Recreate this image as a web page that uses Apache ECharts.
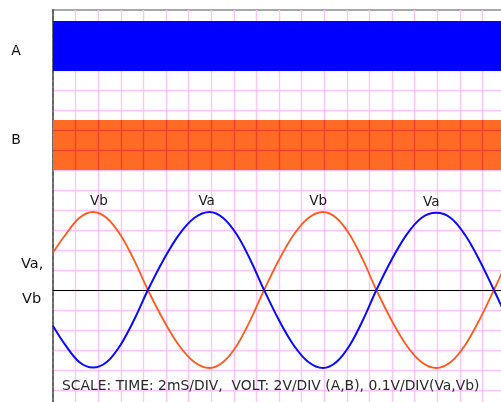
<!DOCTYPE html>
<html><head><meta charset="utf-8">
<script src="https://cdn.jsdelivr.net/npm/echarts@6/dist/echarts.min.js"></script>
<style>html,body{margin:0;padding:0;background:#fff}#c{width:501px;height:402px}</style>
</head><body><div id="c"></div>
<script>
// time in ms (2 ms / div)
const timeMs = [0, 1.1, 2.32, 3.54, 4.76, 5.96, 7.18, 8.4, 9.76, 11.14, 12.5, 13.86, 15.06, 16.28, 17.48, 18.68, 19.98, 21.3, 22.6, 23.9, 25.08, 26.26, 27.44, 28.62, 29.94, 31.28, 32.6, 33.92, 35.2, 36.46, 37.74, 39.02, 40.0];
// volts (0.1 V / div)
const vb = [0.187, 0.276, 0.360, 0.390, 0.360, 0.276, 0.149, 0, -0.149, -0.276, -0.360, -0.390, -0.360, -0.276, -0.149, 0, 0.149, 0.276, 0.360, 0.390, 0.360, 0.276, 0.149, 0, -0.149, -0.276, -0.360, -0.390, -0.360, -0.276, -0.149, 0, 0.118];
const va = [-0.180, -0.276, -0.360, -0.388, -0.360, -0.276, -0.149, 0, 0.149, 0.276, 0.360, 0.390, 0.360, 0.276, 0.149, 0, -0.149, -0.276, -0.360, -0.390, -0.360, -0.276, -0.149, 0, 0.149, 0.276, 0.360, 0.386, 0.360, 0.276, 0.149, 0, -0.118];
// digital channels A, B (levels in divisions)
const bandA = [10.95, 13.45];
const bandB = [6, 8.5];
// indices of labelled peaks
const vbPeaks = [3, 19];
const vaPeaks = [11, 27];
const sideLabels = ['A', 'B', 'Va,', 'Vb'];
const scaleText = 'SCALE: TIME: 2mS/DIV,  VOLT: 2V/DIV (A,B), 0.1V/DIV(Va,Vb)';

const FONT = '"DejaVu Sans", sans-serif';
const G = {left: 53, top: 10, width: 452, height: 400};
const divMin = -6, divMax = 14;
const pxPerDiv = G.height / (divMax - divMin);
const tMax = 40;

function build(vals, peaks, name, offs) {
  return timeMs.map((t, i) => {
    const k = peaks.indexOf(i);
    if (k < 0) return [t, vals[i]];
    return {value: [t, vals[i]], label: {show: true, formatter: name, position: 'top', distance: 3,
      offset: [offs[k], 0], color: '#1a1a1a', fontSize: 13.5, fontFamily: FONT}};
  });
}

const pink = '#ffc4fb';
const red = '#f0402c';
const chart = echarts.init(document.getElementById('c'), null, {renderer: 'canvas'});
chart.setOption({
  animation: false,
  backgroundColor: '#fff',
  grid: [
    {left: G.left, top: G.top, width: G.width, height: G.height, outerBoundsMode: 'none', containLabel: false,
      show: true, borderColor: '#8a8a8a', borderWidth: 1.5, backgroundColor: 'transparent'},
    {left: G.left, top: G.top + (divMax - bandB[1]) * pxPerDiv, width: G.width, height: (bandB[1] - bandB[0]) * pxPerDiv,
      outerBoundsMode: 'none', containLabel: false}
  ],
  xAxis: [
    {type: 'value', gridIndex: 0, min: 0, max: tMax, interval: 2,
      axisLine: {show: true, onZero: true, onZeroAxisIndex: 0, lineStyle: {color: '#000', width: 1}},
      axisTick: {show: false}, axisLabel: {show: false},
      splitLine: {show: true, showMinLine: false, lineStyle: {color: pink, width: 1.4}}},
    {type: 'value', gridIndex: 1, min: 0, max: tMax, interval: 2, z: 3,
      axisLine: {show: false}, axisTick: {show: false}, axisLabel: {show: false},
      splitLine: {show: true, showMinLine: false, showMaxLine: false, lineStyle: {color: red, width: 1.4}}}
  ],
  yAxis: [
    {type: 'value', gridIndex: 0, min: divMin, max: divMax, interval: 1,
      axisLine: {show: true, onZero: false, lineStyle: {color: '#666', width: 2, type: [4, 2]}},
      axisTick: {show: false}, axisLabel: {show: false},
      splitLine: {show: true, showMaxLine: false, lineStyle: {color: pink, width: 1.4}}},
    {type: 'value', gridIndex: 0, min: -0.6, max: 1.4, show: false,
      axisLine: {show: false}, splitLine: {show: false}},
    {type: 'value', gridIndex: 1, min: bandB[0], max: bandB[1], interval: 1, z: 3,
      axisLine: {show: false}, axisTick: {show: false}, axisLabel: {show: false},
      splitLine: {show: true, showMinLine: false, showMaxLine: false, lineStyle: {color: red, width: 1.4}}}
  ],
  series: [
    {name: 'A', type: 'line', xAxisIndex: 0, yAxisIndex: 0, data: [], z: 2, silent: true,
      markArea: {silent: true, itemStyle: {color: '#0000ff'}, data: [[{yAxis: bandA[0]}, {yAxis: bandA[1]}]]}},
    {name: 'B', type: 'line', xAxisIndex: 0, yAxisIndex: 0, data: [], z: 2, silent: true,
      markArea: {silent: true, itemStyle: {color: '#ff6b24'}, data: [[{yAxis: bandB[0]}, {yAxis: bandB[1]}]]}},
    {name: 'Vb', type: 'line', xAxisIndex: 0, yAxisIndex: 1, smooth: 0.35, z: 4,
      symbol: 'circle', symbolSize: 1, showAllSymbol: true,
      itemStyle: {color: '#ff5a1e'}, lineStyle: {color: '#ff5a1e', width: 1.8},
      data: build(vb, vbPeaks, 'Vb', [6, -5])},
    {name: 'Va', type: 'line', xAxisIndex: 0, yAxisIndex: 1, smooth: 0.35, z: 4,
      symbol: 'circle', symbolSize: 1, showAllSymbol: true,
      itemStyle: {color: '#0a0aff'}, lineStyle: {color: '#0a0aff', width: 2},
      data: build(va, vaPeaks, 'Va', [-3, -5])}
  ],
  graphic: [
    {type: 'text', x: 16, y: 51, z: 10, style: {text: sideLabels[0], font: '14px ' + FONT, fill: '#111', align: 'center', verticalAlign: 'middle'}},
    {type: 'text', x: 16, y: 140, z: 10, style: {text: sideLabels[1], font: '14px ' + FONT, fill: '#111', align: 'center', verticalAlign: 'middle'}},
    {type: 'text', x: 21, y: 264, z: 10, style: {text: sideLabels[2], font: '14.5px ' + FONT, fill: '#111', align: 'left', verticalAlign: 'middle'}},
    {type: 'text', x: 22, y: 299, z: 10, style: {text: sideLabels[3], font: '14.5px ' + FONT, fill: '#111', align: 'left', verticalAlign: 'middle'}},
    {type: 'text', x: 62, y: 386, z: 10, style: {text: scaleText, font: '13.9px ' + FONT, fill: '#2a2a2a', align: 'left', verticalAlign: 'middle'}}
  ]
});
</script></body></html>
